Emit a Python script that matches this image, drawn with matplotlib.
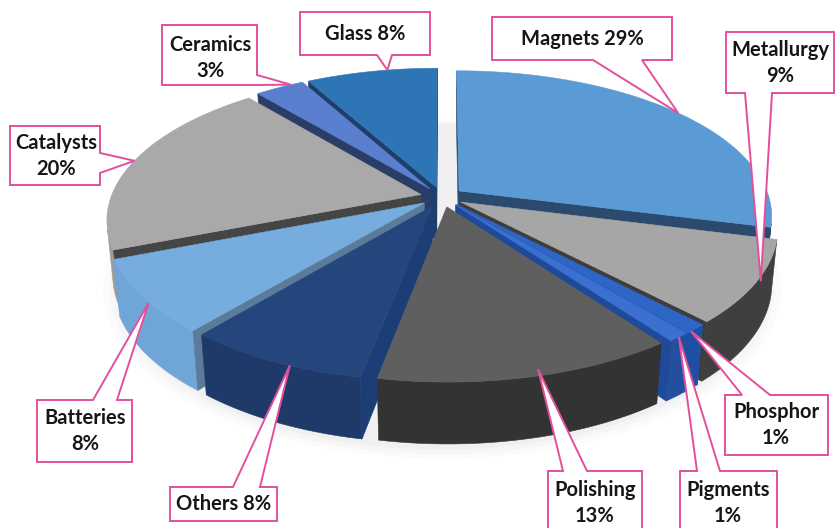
import numpy as np
import matplotlib.pyplot as plt
from matplotlib.patches import Polygon

# rare earth end uses, % share, clockwise from 12 o'clock
labels = ['Magnets', 'Metallurgy', 'Phosphor', 'Pigments', 'Polishing',
          'Others', 'Batteries', 'Catalysts', 'Ceramics', 'Glass']
shares = [29, 9, 1, 1, 13, 8, 8, 20, 3, 8]

top_colors = ['#5b9bd5', '#a6a6a6', '#2e66c8', '#3b6fd0', '#5f5f5f',
              '#25457d', '#77acdf', '#a9a9a9', '#5b7fcf', '#2e75b6']
wall_colors = ['#335d88', '#3f3f3f', '#1f4fa5', '#234f9e', '#333333',
               '#1f3a69', '#70a5d8', '#9c9c9c', '#4a6bb5', '#255f96']
cut_colors = ['#2b4a6e', '#3d3d3d', '#1f4fa8', '#1f4a9a', '#444444',
              '#1d3d77', '#5a7b9a', '#454545', '#2a3d66', '#1f3f6a']

# callout layout: box (x0, y0, x1, y1), edge carrying the pointer, pointer base,
# text centre, and where on the slice the pointer lands (angle frac, radius, depth)
boxes = [(492, 17, 672, 60), (726, 32, 834, 93), (725, 395, 828, 455),
         (680, 471, 777, 540), (548, 471, 642, 540), (170, 487, 277, 521),
         (37, 400, 132, 462), (10, 126, 100, 185), (162, 25, 257, 85),
         (300, 12, 430, 55)]
sides = ['bottom', 'bottom', 'top', 'top', 'top', 'top', 'top', 'right', 'right', 'bottom']
bases = [(593, 642), (745, 772), (742, 770), (697, 720), (563, 587), (233, 260),
         (93, 117), (153, 173), (75, 85), (377, 392)]
text_xy = [(582, 39), (780, 63), (776, 425), (728, 503), (595, 503), (224, 504),
           (85, 431), (56, 156), (210, 58), (365, 34)]
one_line = [True, False, False, False, False, True, False, False, False, True]
anchors = [(0.5, 1.0, 0.0), (0.42, 1.0, 0.1), (0.8, 1.0, 0.0), (0.5, 1.0, 0.0),
           (0.46, 0.97, 0.0), (0.4, 1.0, 0.0), (0.42, 1.0, 0.0), (0.5, 1.0, 0.0),
           (0.75, 1.0, 0.0), (0.62, 1.0, 0.0)]

CX, CY, SCALE = 442, 197, 310
ELEV = np.radians(27.3)
DIST = 5.3
THICK = 0.2
EXPLODE = 0.07
ce, se = np.cos(ELEV), np.sin(ELEV)
CAM = np.array([0.0, -DIST * ce, DIST * se])


def project(x, y, z):
    # x right, y into the screen, z up -> pixel coords
    v = y * se + z * ce
    w = y * ce - z * se
    f = DIST / (DIST + w)
    return CX + SCALE * x * f, CY - SCALE * v * f


def unit(phi):
    return np.sin(phi), np.cos(phi)


def poly(ax, pts, color, z=1):
    ax.add_patch(Polygon(pts, closed=True, facecolor=color, edgecolor=color,
                         lw=0.4, zorder=z))


fig = plt.figure(figsize=(8.37, 5.28), dpi=100)
ax = fig.add_axes([0, 0, 1, 1])
ax.set_xlim(0, 837)
ax.set_ylim(528, 0)
ax.axis('off')

# faint shadow under the pie
t = np.linspace(0, 2 * np.pi, 200)
for rad, al in [(1.09, 0.03), (1.07, 0.04), (1.05, 0.05)]:
    xs, ys = project(rad * np.sin(t), rad * np.cos(t) - 0.03, -THICK - 0.01)
    ax.fill(xs, ys, color='#909090', alpha=al, lw=0, zorder=0)

cum = np.concatenate([[0], np.cumsum(shares)]) / sum(shares) * 2 * np.pi
slices = []
for i in range(len(shares)):
    a, b = cum[i], cum[i + 1]
    mid = 0.5 * (a + b)
    ox, oy = EXPLODE * np.sin(mid), EXPLODE * np.cos(mid)
    cyw = oy + 0.6 * np.cos(mid)
    depth = cyw * ce + THICK / 2 * se
    slices.append((depth, i, a, b, ox, oy))

tips = {}
for depth, i, a, b, ox, oy in sorted(slices, reverse=True):
    phi = np.linspace(a, b, max(4, int((b - a) * 80)))
    sx, sy = unit(phi)
    rx, ry = ox + sx, oy + sy

    # curved outer wall, only where it faces the camera
    vis = (sx * (CAM[0] - rx) + sy * (CAM[1] - ry)) > 0
    idx = np.where(vis)[0]
    if len(idx):
        runs = np.split(idx, np.where(np.diff(idx) > 1)[0] + 1)
        for run in runs:
            if len(run) < 2:
                continue
            tx, ty = project(rx[run], ry[run], 0.0)
            bx, by = project(rx[run], ry[run], -THICK)
            pts = np.column_stack([np.concatenate([tx, bx[::-1]]),
                                   np.concatenate([ty, by[::-1]])])
            poly(ax, pts, wall_colors[i])

    # flat cut faces at both ends of the wedge
    for ang, nrm in [(a, (-np.cos(a), np.sin(a))), (b, (np.cos(b), -np.sin(b)))]:
        ux, uy = unit(ang)
        px, py = ox + 0.5 * ux, oy + 0.5 * uy
        facing = nrm[0] * (CAM[0] - px) + nrm[1] * (CAM[1] - py) > 0
        if not facing:
            continue
        corners = [(ox, oy, 0), (ox + ux, oy + uy, 0),
                   (ox + ux, oy + uy, -THICK), (ox, oy, -THICK)]
        pts = [project(*c) for c in corners]
        poly(ax, pts, cut_colors[i])

    # top face
    tx, ty = project(rx, ry, 0.0)
    c0 = project(ox, oy, 0.0)
    pts = np.column_stack([np.concatenate([[c0[0]], tx]),
                           np.concatenate([[c0[1]], ty])])
    poly(ax, pts, top_colors[i])

    fr, rr, dd = anchors[i]
    ang = a + fr * (b - a)
    ux, uy = unit(ang)
    tips[i] = project(ox + rr * ux, oy + rr * uy, -dd * THICK)

PINK = '#e2509c'


def callout(box, side, base, tip):
    x0, y0, x1, y1 = box
    b0, b1 = base
    if side == 'top':
        pts = [(x0, y0), (b0, y0), tip, (b1, y0), (x1, y0), (x1, y1), (x0, y1)]
    elif side == 'bottom':
        pts = [(x0, y0), (x1, y0), (x1, y1), (b1, y1), tip, (b0, y1), (x0, y1)]
    elif side == 'right':
        pts = [(x0, y0), (x1, y0), (x1, b0), tip, (x1, b1), (x1, y1), (x0, y1)]
    else:
        pts = [(x0, y0), (x1, y0), (x1, y1), (x0, y1), (x0, b1), tip, (x0, b0)]
    ax.add_patch(Polygon(pts, closed=True, facecolor='white', edgecolor=PINK,
                         lw=1.4, zorder=5, joinstyle='miter'))


for i, name in enumerate(labels):
    callout(boxes[i], sides[i], bases[i], tips[i])
    sep = ' ' if one_line[i] else '\n'
    ax.text(text_xy[i][0], text_xy[i][1], f'{name}{sep}{shares[i]}%',
            ha='center', va='center', fontsize=14.5, fontweight='bold',
            family='Lato', color='#161616', linespacing=1.35, zorder=6)

fig.savefig('out.png', dpi=100)
